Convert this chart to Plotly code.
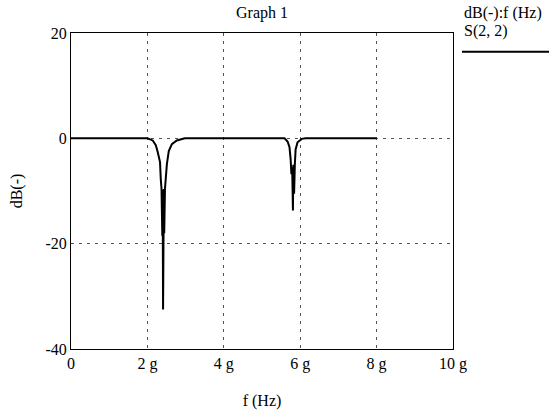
import plotly.graph_objects as go

# Frequency (g-units) and S(2,2) magnitude in dB
freq = [0.0, 1.0, 2.0, 2.14, 2.22, 2.27, 2.33, 2.35, 2.37, 2.39, 2.40, 2.41, 2.42, 2.43,
        2.44, 2.46, 2.51, 2.56, 2.64, 2.77, 2.98, 4.0, 5.0, 5.59, 5.67, 5.72, 5.75, 5.77,
        5.79, 5.80, 5.81, 5.82, 5.84, 5.86, 5.88, 5.93, 6.04, 6.14, 7.0, 8.0]
s22_db = [0.0, 0.0, 0.0, -0.4, -1.3, -2.6, -4.5, -7.7, -9.6, -18.5, -9.8, -32.5, -18.6, -9.6,
          -18.0, -9.6, -4.9, -2.4, -1.1, -0.4, 0.0, 0.0, 0.0, 0.0, -0.6, -1.7, -4.0, -6.8,
          -5.5, -11.5, -13.7, -5.0, -10.5, -4.9, -2.1, -0.75, -0.1, 0.0, 0.0, 0.0]

x_tickvals = [0, 2, 4, 6, 8, 10]
x_ticktext = ["0", "2 g", "4 g", "6 g", "8 g", "10 g"]
y_tickvals = [20, 0, -20, -40]
y_ticktext = ["20", "0", "-20", "-40"]

FONT = "Liberation Serif"
FS = 16

# plot box on screen: x 71..453, y 33..352 (page body margin removed below)
L, R, T, B = 71, 453, 33, 352
PW, PH = R - L, B - T

def px(x):
    return (x - L) / PW

def py(y):
    return 1 - (y - T) / PH

fig = go.Figure()
fig.add_trace(go.Scatter(x=freq, y=s22_db, mode="lines",
                         line=dict(color="black", width=2), showlegend=False))

fig.update_layout(
    width=554, height=418,
    margin=dict(l=L, r=554 - R, t=T, b=418 - B),
    paper_bgcolor="white", plot_bgcolor="white",
    font=dict(family=FONT, size=FS, color="black"),
    title=dict(text="Graph 1", x=((L + R) / 2) / 554, xanchor="center",
               y=1 - 12 / 418, yanchor="middle", font=dict(family=FONT, size=FS)),
    xaxis=dict(range=[0, 10], tickvals=x_tickvals, ticktext=x_ticktext,
               showgrid=True, gridcolor="#555555", gridwidth=1, griddash="3px,5px",
               showline=True, linecolor="black", linewidth=1, mirror=True,
               ticks="", zeroline=False,
               title=dict(text="f (Hz)", standoff=22, font=dict(family=FONT, size=FS))),
    yaxis=dict(range=[-40, 20], tickvals=y_tickvals, ticktext=y_ticktext,
               showgrid=True, gridcolor="#555555", gridwidth=1, griddash="3px,5px",
               showline=True, linecolor="black", linewidth=1, mirror=True,
               ticks="", zeroline=False,
               title=dict(text="dB(-)", standoff=18, font=dict(family=FONT, size=FS))),
)

# legend block at right
fig.add_annotation(text="dB(-):f (Hz)", xref="paper", yref="paper",
                   x=px(462), y=py(13), xanchor="left", yanchor="middle",
                   showarrow=False, font=dict(family=FONT, size=FS))
fig.add_annotation(text="S(2, 2)", xref="paper", yref="paper",
                   x=px(462), y=py(31), xanchor="left", yanchor="middle",
                   showarrow=False, font=dict(family=FONT, size=FS))
fig.add_shape(type="line", xref="paper", yref="paper",
              x0=px(462), x1=px(549), y0=py(52), y1=py(52),
              line=dict(color="black", width=2))

fig.write_html("out.html", config={"displayModeBar": False},
               post_script="document.body.style.margin='0';")
